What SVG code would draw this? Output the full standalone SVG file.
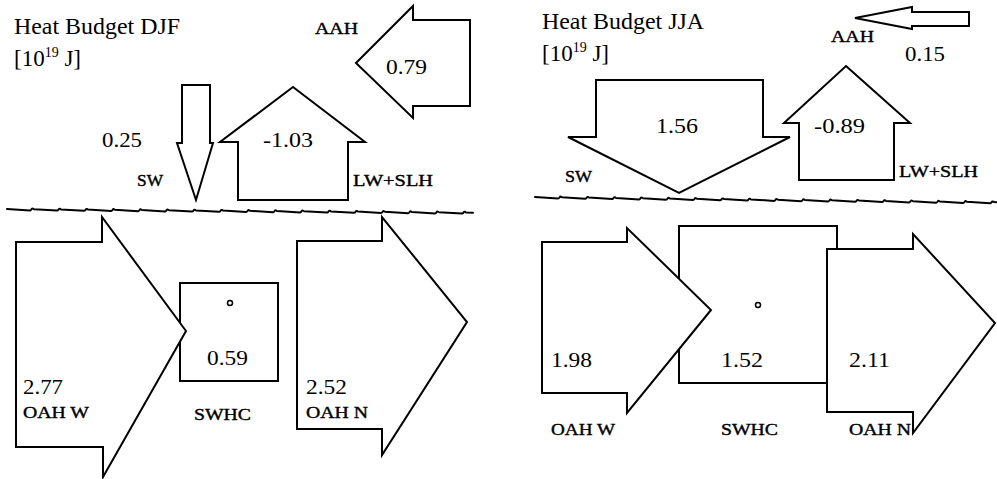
<svg xmlns="http://www.w3.org/2000/svg" width="997" height="479" viewBox="0 0 997 479">
<style>
.s{fill:#fff;stroke:#000;stroke-width:2;stroke-linejoin:miter}
.w{fill:none;stroke:#000;stroke-width:2;stroke-linejoin:round;stroke-linecap:round}
text{font-family:'Liberation Serif','Times New Roman',serif;fill:#000}
.ti{font-size:23px}
.n{font-size:21px}
.l{font-size:17px;stroke:#000;stroke-width:0.4}
.sup{font-size:14px}
.c{fill:none;stroke:#000;stroke-width:1.5}
</style>
<rect width="997" height="479" fill="#fff"/>

<!-- ===== DJF panel ===== -->
<g id="title-djf">
<text class="ti" x="14" y="34" textLength="166" lengthAdjust="spacingAndGlyphs">Heat Budget DJF</text>
<text class="ti" x="14" y="66">[10<tspan class="sup" dy="-9">19</tspan><tspan dy="9"> J]</tspan></text>
</g>

<g id="surface-djf">
<path class="w" d="M7,209 l23,1.4 c1.5,0.2 1.5,-2.4 3,-1.8 c0.7,0.2 0.5,0.5 1,0.6 l23,1.4 c1.5,0.2 1.5,-2.4 3,-1.8 c0.7,0.2 0.5,0.5 1,0.6 l23,1.4 c1.5,0.2 1.5,-2.4 3,-1.8 c0.7,0.2 0.5,0.5 1,0.6 l23,1.4 c1.5,0.2 1.5,-2.4 3,-1.8 c0.7,0.2 0.5,0.5 1,0.6 l23,1.4 c1.5,0.2 1.5,-2.4 3,-1.8 c0.7,0.2 0.5,0.5 1,0.6 l23,1.4 c1.5,0.2 1.5,-2.4 3,-1.8 c0.7,0.2 0.5,0.5 1,0.6 l23,1.4 c1.5,0.2 1.5,-2.4 3,-1.8 c0.7,0.2 0.5,0.5 1,0.6 l23,1.4 c1.5,0.2 1.5,-2.4 3,-1.8 c0.7,0.2 0.5,0.5 1,0.6 l23,1.4 c1.5,0.2 1.5,-2.4 3,-1.8 c0.7,0.2 0.5,0.5 1,0.6 l23,1.4 c1.5,0.2 1.5,-2.4 3,-1.8 c0.7,0.2 0.5,0.5 1,0.6 l23,1.4 c1.5,0.2 1.5,-2.4 3,-1.8 c0.7,0.2 0.5,0.5 1,0.6 l23,1.4 c1.5,0.2 1.5,-2.4 3,-1.8 c0.7,0.2 0.5,0.5 1,0.6 l23,1.4 c1.5,0.2 1.5,-2.4 3,-1.8 c0.7,0.2 0.5,0.5 1,0.6 l23,1.4 c1.5,0.2 1.5,-2.4 3,-1.8 c0.7,0.2 0.5,0.5 1,0.6 l23,1.4 c1.5,0.2 1.5,-2.4 3,-1.8 c0.7,0.2 0.5,0.5 1,0.6 l23,1.4 c1.5,0.2 1.5,-2.4 3,-1.8 c0.7,0.2 0.5,0.5 1,0.6 l23,1.4 c1.5,0.2 1.5,-2.4 3,-1.8 c0.7,0.2 0.5,0.5 1,0.6 l7,0.4"/>
</g>

<g id="aah-djf">
<polygon class="s" points="356,63 413,6 413,20 470,20 470,106 413,106 413,118"/>
<text class="l" x="315" y="34" textLength="43" lengthAdjust="spacingAndGlyphs">AAH</text>
<text class="n" x="386" y="74" textLength="41" lengthAdjust="spacingAndGlyphs">0.79</text>
</g>

<g id="sw-djf">
<polygon class="s" points="182,85 210,85 210,143 213,143 196,200 177,143 182,143"/>
<text class="n" x="102" y="147" textLength="40" lengthAdjust="spacingAndGlyphs">0.25</text>
<text class="l" x="137" y="186" textLength="26" lengthAdjust="spacingAndGlyphs">SW</text>
</g>

<g id="lwslh-djf">
<polygon class="s" points="293,87 365,142 348,142 348,200 238,200 238,142 220,142"/>
<text class="n" x="263" y="147" textLength="50" lengthAdjust="spacingAndGlyphs">-1.03</text>
<text class="l" x="353" y="186" textLength="80" lengthAdjust="spacingAndGlyphs">LW+SLH</text>
</g>

<g id="swhc-djf">
<rect class="s" x="180" y="283" width="98" height="98"/>
<circle class="c" cx="230" cy="303" r="2.5"/>
<text class="n" x="207" y="365" textLength="41" lengthAdjust="spacingAndGlyphs">0.59</text>
<text class="l" x="194" y="420" textLength="57" lengthAdjust="spacingAndGlyphs">SWHC</text>
</g>

<g id="oahw-djf">
<polygon class="s" points="16,242 102,242 102,217 186,331 103,477 103,447 16,447"/>
<text class="n" x="23" y="394" textLength="40" lengthAdjust="spacingAndGlyphs">2.77</text>
<text class="l" x="23" y="418" textLength="66" lengthAdjust="spacingAndGlyphs">OAH W</text>
</g>

<g id="oahn-djf">
<polygon class="s" points="297,241 382,241 382,217 467,322 382,455 382,429 297,429"/>
<text class="n" x="306" y="394" textLength="41" lengthAdjust="spacingAndGlyphs">2.52</text>
<text class="l" x="306" y="418" textLength="62" lengthAdjust="spacingAndGlyphs">OAH N</text>
</g>

<!-- ===== JJA panel ===== -->
<g id="title-jja">
<text class="ti" x="542" y="29" textLength="162" lengthAdjust="spacingAndGlyphs">Heat Budget JJA</text>
<text class="ti" x="542" y="61">[10<tspan class="sup" dy="-9">19</tspan><tspan dy="9"> J]</tspan></text>
</g>

<g id="surface-jja">
<path class="w" d="M535,197 l23,1.5 c1.5,0.2 1.5,-2.4 3,-1.8 c0.7,0.2 0.5,0.5 1,0.6 l23,1.5 c1.5,0.2 1.5,-2.4 3,-1.8 c0.7,0.2 0.5,0.5 1,0.6 l23,1.5 c1.5,0.2 1.5,-2.4 3,-1.8 c0.7,0.2 0.5,0.5 1,0.6 l23,1.5 c1.5,0.2 1.5,-2.4 3,-1.8 c0.7,0.2 0.5,0.5 1,0.6 l23,1.5 c1.5,0.2 1.5,-2.4 3,-1.8 c0.7,0.2 0.5,0.5 1,0.6 l23,1.5 c1.5,0.2 1.5,-2.4 3,-1.8 c0.7,0.2 0.5,0.5 1,0.6 l23,1.5 c1.5,0.2 1.5,-2.4 3,-1.8 c0.7,0.2 0.5,0.5 1,0.6 l23,1.5 c1.5,0.2 1.5,-2.4 3,-1.8 c0.7,0.2 0.5,0.5 1,0.6 l23,1.5 c1.5,0.2 1.5,-2.4 3,-1.8 c0.7,0.2 0.5,0.5 1,0.6 l23,1.5 c1.5,0.2 1.5,-2.4 3,-1.8 c0.7,0.2 0.5,0.5 1,0.6 l23,1.5 c1.5,0.2 1.5,-2.4 3,-1.8 c0.7,0.2 0.5,0.5 1,0.6 l23,1.5 c1.5,0.2 1.5,-2.4 3,-1.8 c0.7,0.2 0.5,0.5 1,0.6 l23,1.5 c1.5,0.2 1.5,-2.4 3,-1.8 c0.7,0.2 0.5,0.5 1,0.6 l23,1.5 c1.5,0.2 1.5,-2.4 3,-1.8 c0.7,0.2 0.5,0.5 1,0.6 l23,1.5 c1.5,0.2 1.5,-2.4 3,-1.8 c0.7,0.2 0.5,0.5 1,0.6 l23,1.5 c1.5,0.2 1.5,-2.4 3,-1.8 c0.7,0.2 0.5,0.5 1,0.6 l23,1.5 c1.5,0.2 1.5,-2.4 3,-1.8 c0.7,0.2 0.5,0.5 1,0.6 l23,1.5"/>
</g>

<g id="aah-jja">
<polygon class="s" points="855,18 912,7 912,12 969,12 969,26 912,26 912,29"/>
<text class="l" x="831" y="42" textLength="43" lengthAdjust="spacingAndGlyphs">AAH</text>
<text class="n" x="905" y="61" textLength="40" lengthAdjust="spacingAndGlyphs">0.15</text>
</g>

<g id="sw-jja">
<polygon class="s" points="596,80 763,80 763,137 790,137 679,193 568,137 596,137"/>
<text class="n" x="656" y="133" textLength="42" lengthAdjust="spacingAndGlyphs">1.56</text>
<text class="l" x="565" y="182" textLength="27" lengthAdjust="spacingAndGlyphs">SW</text>
</g>

<g id="lwslh-jja">
<polygon class="s" points="846,66 910,123 894,123 894,180 799,180 799,123 784,123"/>
<text class="n" x="814" y="133" textLength="51" lengthAdjust="spacingAndGlyphs">-0.89</text>
<text class="l" x="899" y="177" textLength="79" lengthAdjust="spacingAndGlyphs">LW+SLH</text>
</g>

<g id="swhc-jja">
<rect class="s" x="679" y="226" width="158" height="157"/>
<circle class="c" cx="758" cy="305" r="2.5"/>
<text class="n" x="721" y="367" textLength="42" lengthAdjust="spacingAndGlyphs">1.52</text>
<text class="l" x="721" y="435" textLength="57" lengthAdjust="spacingAndGlyphs">SWHC</text>
</g>

<g id="oahw-jja">
<polygon class="s" points="542,242 627,242 627,228 711,310 627,413 627,393 542,393"/>
<text class="n" x="551" y="367" textLength="41" lengthAdjust="spacingAndGlyphs">1.98</text>
<text class="l" x="551" y="435" textLength="64" lengthAdjust="spacingAndGlyphs">OAH W</text>
</g>

<g id="oahn-jja">
<polygon class="s" points="827,249 913,249 913,234 995,323 913,433 913,412 827,412"/>
<text class="n" x="849" y="367" textLength="41" lengthAdjust="spacingAndGlyphs">2.11</text>
<text class="l" x="849" y="435" textLength="62" lengthAdjust="spacingAndGlyphs">OAH N</text>
</g>

<g id="connectors"></g>
</svg>
